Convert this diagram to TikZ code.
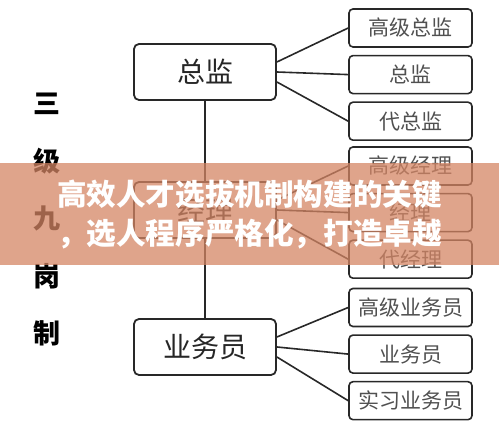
\documentclass[tikz,border=0pt]{standalone}
\usepackage{fontspec}
\setmainfont{Noto Sans CJK SC}
\usetikzlibrary{positioning}
\definecolor{BoxLine}{RGB}{40,40,40}
\definecolor{RankGray}{RGB}{80,80,80}
\definecolor{BannerOrange}{RGB}{212,133,100}

\tikzset{
  mainbox/.style={draw=BoxLine, line width=0.9pt, rounded corners=2.5pt,
    minimum width=71pt, minimum height=28pt, inner sep=0pt,
    font=\fontsize{14}{16}\selectfont, text=black!85},
  rankbox/.style={draw=BoxLine, line width=0.8pt, rounded corners=2pt,
    minimum width=61.5pt, minimum height=19pt, inner sep=0pt,
    font=\fontsize{10.5}{12}\selectfont, text=RankGray},
  link/.style={BoxLine, line width=0.8pt}
}

\begin{document}
\begin{tikzpicture}[x=0.5pt, y=-0.5pt]
\useasboundingbox (0,0) rectangle (499,426);
% left title
\node[align=center, font=\fontsize{13.5}{28.75}\selectfont\bfseries] (title) at (47,220) {三\\级\\九\\岗\\制};
% three levels
\node[mainbox] (zj) at (205,72) {总监};
\node[mainbox] (jl) at (205,210) {经理};
\node[mainbox] (ywy) at (205,347) {业务员};
\draw[link] (zj.south) -- (jl.north);
\draw[link] (jl.south) -- (ywy.north);
% nine posts
\node[rankbox] (gjzj) at (410.5,28) {高级总监};
\node[rankbox, below=3.5pt of gjzj] (zjpost) {总监};
\node[rankbox, below=3.5pt of zjpost] (dzj) {代总监};
\node[rankbox] (gjjl) at (410.5,166) {高级经理};
\node[rankbox, below=3.5pt of gjjl] (jlpost) {经理};
\node[rankbox, below=3.5pt of jlpost] (djl) {代经理};
\node[rankbox] (gjywy) at (410.5,307.5) {高级业务员};
\node[rankbox, below=3.5pt of gjywy] (ywypost) {业务员};
\node[rankbox, below=3.5pt of ywypost] (sxywy) {实习业务员};
\draw[link] ([yshift=5pt]zj.east) -- (gjzj.west);
\draw[link] (zj.east) -- (zjpost.west);
\draw[link] ([yshift=-5pt]zj.east) -- (dzj.west);
\draw[link] ([yshift=5pt]jl.east) -- (gjjl.west);
\draw[link] (jl.east) -- (jlpost.west);
\draw[link] ([yshift=-5pt]jl.east) -- (djl.west);
\draw[link] ([yshift=5pt]ywy.east) -- (gjywy.west);
\draw[link] (ywy.east) -- (ywypost.west);
\draw[link] ([yshift=-5pt]ywy.east) -- (sxywy.west);
% banner
\fill[BannerOrange, opacity=0.75] (0,163) rectangle (499,265);
\node[text=white, font=\fontsize{14.8}{17}\selectfont\bfseries] (line1) at (249.5,194) {高效人才选拔机制构建的关键};
\node[text=white, font=\fontsize{14.8}{17}\selectfont\bfseries] (line2) at (249.5,234) {，选人程序严格化，打造卓越};
\end{tikzpicture}
\end{document}
